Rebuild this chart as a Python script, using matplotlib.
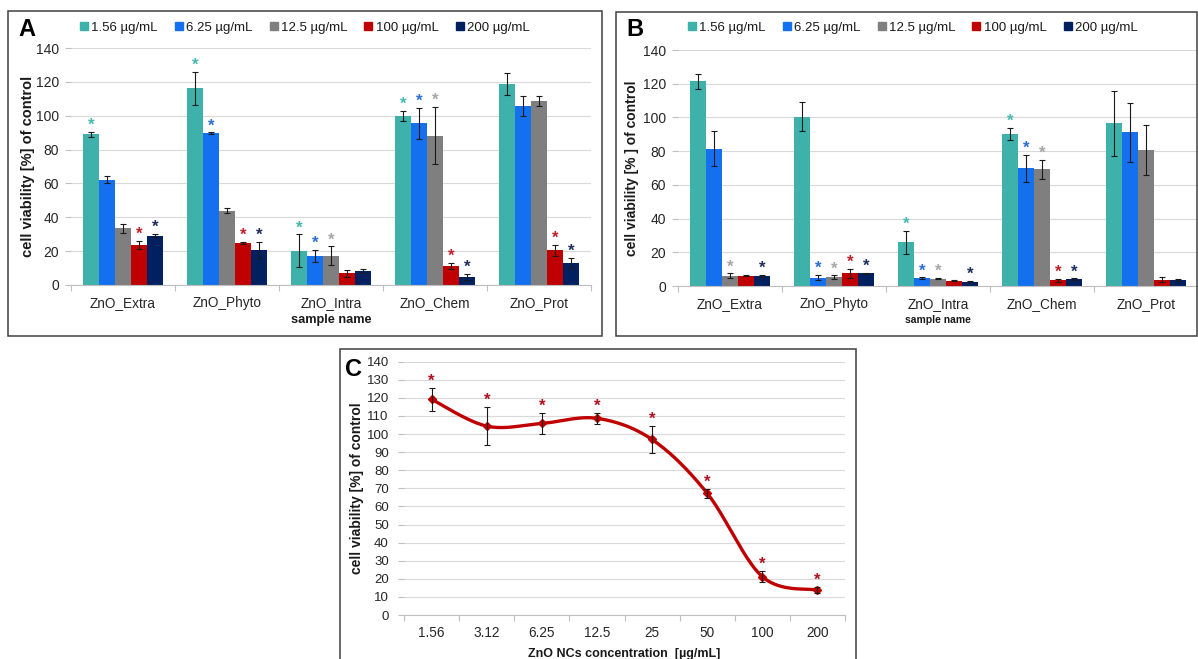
import numpy as np
import matplotlib
matplotlib.use("Agg")
import matplotlib.pyplot as plt
from matplotlib.lines import Line2D
from matplotlib.patches import Rectangle
from matplotlib.ticker import FixedLocator, MultipleLocator

plt.rcParams['font.family'] = ['Liberation Sans', 'DejaVu Sans']

# ---------------- data ----------------
samples = ["ZnO_Extra", "ZnO_Phyto", "ZnO_Intra", "ZnO_Chem", "ZnO_Prot"]
doses = ["1.56 µg/mL", "6.25 µg/mL", "12.5 µg/mL", "100 µg/mL", "200 µg/mL"]
dose_colors = ["#3DB1AA", "#1570EF", "#7F7F7F", "#C00000", "#002060"]
star_colors = ["#45B8B0", "#2A6FD6", "#A6A6A6", "#C0202A", "#1F2F5F"]

# Panel A
a_mean_156 = [89.0, 116.2, 20.3, 99.8, 118.7]
a_mean_625 = [62.2, 89.6, 17.3, 95.5, 105.7]
a_mean_125 = [33.5, 43.9, 17.3, 88.2, 108.7]
a_mean_100 = [23.6, 24.8, 6.9, 11.2, 20.5]
a_mean_200 = [29.1, 20.7, 8.3, 4.7, 13.0]
a_err_156 = [1.5, 9.8, 9.6, 3.0, 6.6]
a_err_625 = [2.2, 0.5, 3.6, 9.0, 6.0]
a_err_125 = [2.5, 1.5, 5.5, 17.0, 3.0]
a_err_100 = [2.5, 0.5, 2.0, 2.0, 3.2]
a_err_200 = [1.0, 4.5, 1.0, 2.0, 3.0]
a_sig_156 = [1, 1, 1, 1, 0]
a_sig_625 = [0, 1, 1, 1, 0]
a_sig_125 = [0, 0, 1, 1, 0]
a_sig_100 = [1, 1, 0, 1, 1]
a_sig_200 = [1, 1, 0, 1, 1]

# Panel B
b_mean_156 = [121.5, 100.4, 25.9, 90.2, 96.5]
b_mean_625 = [81.5, 4.9, 4.7, 69.8, 91.1]
b_mean_125 = [6.0, 5.3, 4.4, 69.2, 80.7]
b_mean_100 = [6.2, 7.5, 3.2, 3.4, 3.6]
b_mean_200 = [6.0, 7.5, 2.6, 4.0, 3.6]
b_err_156 = [4.4, 8.5, 6.7, 3.5, 19.3]
b_err_625 = [10.6, 1.5, 0.4, 8.0, 17.3]
b_err_125 = [1.5, 1.0, 0.4, 5.5, 14.6]
b_err_100 = [0.5, 2.8, 0.3, 0.8, 1.5]
b_err_200 = [0.5, 0.5, 0.3, 0.5, 0.5]
b_sig_156 = [0, 0, 1, 1, 0]
b_sig_625 = [0, 1, 1, 1, 0]
b_sig_125 = [1, 1, 1, 1, 0]
b_sig_100 = [0, 1, 0, 1, 0]
b_sig_200 = [1, 1, 1, 1, 0]

# Panel C
c_conc = ["1.56", "3.12", "6.25", "12.5", "25", "50", "100", "200"]
c_mean = [119.2, 104.4, 105.9, 108.7, 97.0, 67.3, 21.2, 13.8]
c_err = [6.5, 10.5, 6.0, 3.0, 7.3, 2.5, 3.0, 1.5]

W, H = 1198, 659
fig = plt.figure(figsize=(W / 100, H / 100), dpi=100)

GRID = "#D9D9D9"
AXC = "#BFBFBF"
TXT = "#262626"


def px_axes(left, top, right, bottom):
    return fig.add_axes([left / W, 1 - bottom / H, (right - left) / W, (bottom - top) / H])


def frame(left, top, right, bottom):
    fig.add_artist(Rectangle((left / W, 1 - bottom / H), (right - left) / W,
                             (bottom - top) / H, transform=fig.transFigure,
                             fill=False, edgecolor="#404040", linewidth=1.1,
                             clip_on=False))


def style_axes(ax, ymax, ystep, ncat, tick_fs, xtick_fs, ypad):
    ax.set_ylim(0, ymax)
    ax.yaxis.set_major_locator(MultipleLocator(ystep))
    ax.set_xlim(-0.5, ncat - 0.5)
    ax.set_xticks(np.arange(ncat))
    ax.xaxis.set_minor_locator(FixedLocator(np.arange(ncat + 1) - 0.5))
    ax.tick_params(axis="x", which="major", length=0, pad=8, labelsize=xtick_fs,
                   labelcolor=TXT)
    ax.tick_params(axis="x", which="minor", length=4, color=AXC, width=0.8)
    ax.tick_params(axis="y", length=4, color=AXC, width=0.8, labelsize=tick_fs,
                   labelcolor=TXT, pad=ypad)
    ax.grid(axis="y", color=GRID, linewidth=0.8)
    ax.set_axisbelow(True)
    for s in ("top", "right", "left"):
        ax.spines[s].set_visible(False)
    ax.spines["bottom"].set_color(AXC)
    ax.spines["bottom"].set_linewidth(0.8)


def bar_panel(ax, means, errs, sigs, ylabel, ylabel_fs, ylabel_pad):
    x = np.arange(len(samples))
    bw = 0.154
    for k, (m, e, s) in enumerate(zip(means, errs, sigs)):
        xs = x + (k - 2) * bw
        ax.bar(xs, m, width=bw, color=dose_colors[k], zorder=2)
        ax.errorbar(xs, m, yerr=e, fmt="none", ecolor="#1A1A1A", elinewidth=0.8,
                    capsize=2.2, capthick=0.8, zorder=3)
        for xi, mi, ei, si in zip(xs, m, e, s):
            if si:
                ax.annotate("*", (xi, mi + ei), xytext=(0, 1.5), textcoords="offset points",
                            ha="center", va="baseline", fontsize=12, fontweight="bold",
                            color=star_colors[k], zorder=4)
    style_axes(ax, 140, 20, len(samples), 10, 9.8, 4.5)
    ax.set_xticklabels(samples)
    ax.set_ylabel(ylabel, fontsize=ylabel_fs, fontweight="bold", color="#1A1A1A",
                  labelpad=ylabel_pad)


# ---------------- panel A ----------------
frame(8, 11, 602, 336)
axA = px_axes(71, 48, 591, 285)
bar_panel(axA,
          [a_mean_156, a_mean_625, a_mean_125, a_mean_100, a_mean_200],
          [a_err_156, a_err_625, a_err_125, a_err_100, a_err_200],
          [a_sig_156, a_sig_625, a_sig_125, a_sig_100, a_sig_200],
          "cell viability [%] of control", 10.5, 1)
axA.set_xlabel("sample name", fontsize=9.2, fontweight="bold", color="#1A1A1A", labelpad=3)
fig.text(18 / W, 1 - 30 / H, "A", fontsize=17, fontweight="bold", va="center", ha="left")

# ---------------- panel B ----------------
frame(616, 12, 1197, 336)
axB = px_axes(678, 50, 1198, 286)
bar_panel(axB,
          [b_mean_156, b_mean_625, b_mean_125, b_mean_100, b_mean_200],
          [b_err_156, b_err_625, b_err_125, b_err_100, b_err_200],
          [b_sig_156, b_sig_625, b_sig_125, b_sig_100, b_sig_200],
          "cell viability [% ] of control", 10, 2.5)
axB.set_xlabel("sample name", fontsize=7.5, fontweight="bold", color="#1A1A1A", labelpad=3)
fig.text(626 / W, 1 - 30 / H, "B", fontsize=17, fontweight="bold", va="center", ha="left")

# legends
handles = [Line2D([], [], marker="s", linestyle="none", markersize=5.5,
                  markerfacecolor=c, markeredgecolor=c) for c in dose_colors]
for ax, x0 in ((axA, 80), (axB, 688)):
    ax.legend(handles, doses, ncol=5, loc="center left",
              bbox_to_anchor=(x0 / W, 1 - 28 / H), bbox_transform=fig.transFigure,
              frameon=False, fontsize=9.5, handlelength=0.6, handletextpad=0.25,
              columnspacing=1.3, borderaxespad=0, borderpad=0,
              labelcolor="#1A1A1A")

# ---------------- panel C ----------------
frame(340, 349, 856, 700)
axC = px_axes(404, 361.7, 845, 615)
xc = np.arange(len(c_conc))
yc = np.asarray(c_mean, dtype=float)

# smoothed curve: cubic Bezier segments with Catmull-Rom control points
pts = np.column_stack([xc, yc]).astype(float)
ext = np.vstack([pts[0], pts, pts[-1]])
t = np.linspace(0, 1, 40)[:, None]
curve = []
for i in range(len(pts) - 1):
    p0, p3 = ext[i + 1], ext[i + 2]
    c1 = p0 + (ext[i + 2] - ext[i]) / 6.0
    c2 = p3 - (ext[i + 3] - ext[i + 1]) / 6.0
    seg = ((1 - t) ** 3) * p0 + 3 * ((1 - t) ** 2) * t * c1 + 3 * (1 - t) * t ** 2 * c2 + t ** 3 * p3
    curve.append(seg)
curve = np.vstack(curve)
axC.plot(curve[:, 0], curve[:, 1], color="#C00000", linewidth=2.4, zorder=3,
         solid_capstyle="round")
axC.plot(xc, yc, linestyle="none", marker="D", markersize=4.5, color="#C00000", zorder=4)
axC.errorbar(xc, yc, yerr=c_err, fmt="none", ecolor="#1A1A1A", elinewidth=0.8,
             capsize=2.2, capthick=0.8, zorder=5)
for xi, mi, ei in zip(xc, c_mean, c_err):
    axC.annotate("*", (xi, mi + ei), xytext=(0, 1.5), textcoords="offset points",
                 ha="center", va="baseline", fontsize=12, fontweight="bold",
                 color="#B01020", zorder=6)
style_axes(axC, 140, 10, len(c_conc), 9.5, 9.8, 7)
axC.set_xticklabels(c_conc)
axC.set_ylabel("cell viability [%] of control", fontsize=10, fontweight="bold",
               color="#1A1A1A", labelpad=2)
axC.set_xlabel("ZnO NCs concentration  [µg/mL]", fontsize=9, fontweight="bold",
               color="#1A1A1A", labelpad=6)
fig.text(345 / W, 1 - 370 / H, "C", fontsize=17, fontweight="bold", va="center", ha="left")

fig.savefig("out.png", dpi=100)
